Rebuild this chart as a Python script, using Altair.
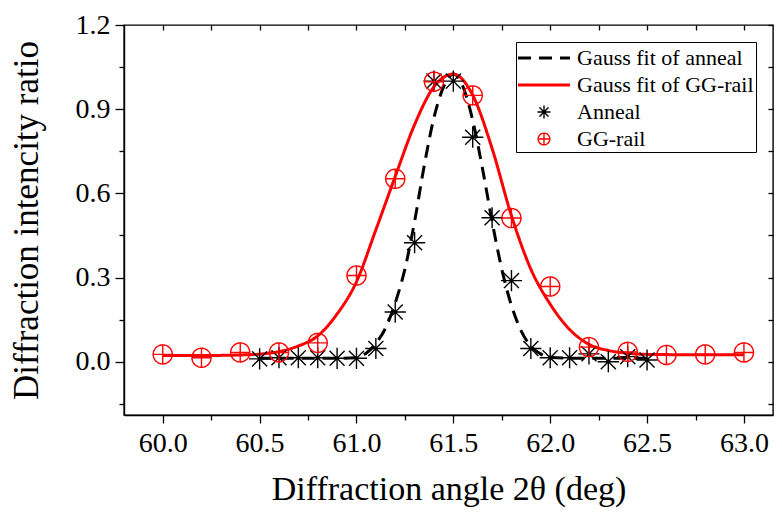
import altair as alt
import pandas as pd

SERIES = ["Gauss fit of anneal", "Gauss fit of GG-rail", "Anneal", "GG-rail"]

# Measured data points
anneal_x = [60.5, 60.6, 60.7, 60.8, 60.9, 61.0, 61.1, 61.2, 61.3, 61.4, 61.5,
            61.6, 61.7, 61.8, 61.9, 62.0, 62.1, 62.2, 62.3, 62.4, 62.5]
anneal_y = [0.010, 0.014, 0.014, 0.014, 0.012, 0.012, 0.047, 0.177, 0.424, 1.0, 1.0,
            0.80, 0.513, 0.289, 0.047, 0.014, 0.014, 0.028, 0.0, 0.018, 0.006]

gg_x = [60.0, 60.2, 60.4, 60.6, 60.8, 61.0, 61.2, 61.4, 61.6, 61.8, 62.0,
        62.2, 62.4, 62.6, 62.8, 63.0]
gg_y = [0.026, 0.014, 0.033, 0.033, 0.067, 0.307, 0.652, 0.998, 0.949, 0.512, 0.268,
        0.052, 0.035, 0.024, 0.026, 0.033]

# Fitted curves
fit_anneal_x = [60.5, 60.7, 60.9, 61.0, 61.05, 61.1, 61.15, 61.2, 61.25, 61.3, 61.35,
                61.4, 61.45, 61.5, 61.55, 61.6, 61.65, 61.7, 61.75, 61.8, 61.85, 61.9,
                61.95, 62.0, 62.2, 62.5]
fit_anneal_y = [0.012, 0.012, 0.012, 0.014, 0.03, 0.065, 0.12, 0.21, 0.33, 0.50, 0.70,
                0.87, 0.98, 1.025, 0.98, 0.86, 0.69, 0.50, 0.33, 0.20, 0.11, 0.055,
                0.028, 0.015, 0.012, 0.012]

fit_gg_x = [60.0, 60.2, 60.4, 60.5, 60.6, 60.7, 60.8, 60.9, 61.0, 61.1, 61.2, 61.3,
            61.4, 61.5, 61.6, 61.7, 61.8, 61.9, 62.0, 62.1, 62.2, 62.3, 62.4, 62.5,
            62.7, 63.0]
fit_gg_y = [0.022, 0.022, 0.024, 0.027, 0.036, 0.056, 0.092, 0.17, 0.285, 0.47, 0.66,
            0.845, 0.98, 1.025, 0.95, 0.76, 0.52, 0.33, 0.205, 0.115, 0.062, 0.04,
            0.03, 0.026, 0.025, 0.025]

x_ticks = [60.0, 60.25, 60.5, 60.75, 61.0, 61.25, 61.5, 61.75, 62.0, 62.25, 62.5,
           62.75, 63.0]
y_ticks = [-0.15, 0.0, 0.15, 0.3, 0.45, 0.6, 0.75, 0.9, 1.05, 1.2]

# legend labels get two trailing no-break spaces so the legend box has right margin
NBSP = chr(160)
LABELS = [s + NBSP * 2 for s in SERIES]

fits = pd.DataFrame({
    "x": fit_anneal_x + fit_gg_x,
    "y": fit_anneal_y + fit_gg_y,
    "series": [LABELS[0]] * len(fit_anneal_x) + [LABELS[1]] * len(fit_gg_x),
})
pts = pd.DataFrame({
    "x": anneal_x + gg_x,
    "y": anneal_y + gg_y,
    "series": [LABELS[2]] * len(anneal_x) + [LABELS[3]] * len(gg_x),
})

LINE_PATH = "M-2,-0.06H2M-2,0.06H2"
STAR = "M0,-0.5V0.5M-0.5,0H0.5M-0.354,-0.354L0.354,0.354M-0.354,0.354L0.354,-0.354"
CPLUS = "M0.45,0A0.45,0.45,0,1,1,-0.45,0A0.45,0.45,0,1,1,0.45,0ZM-0.45,0H0.45M0,-0.45V0.45"

FONT = "Liberation Serif"

xscale = alt.Scale(domain=[59.8, 63.15], nice=False, zero=False)
yscale = alt.Scale(domain=[-0.19, 1.2], nice=False, zero=False)

color = alt.Color("series:N", sort=LABELS,
                  scale=alt.Scale(domain=LABELS, range=["#000000", "#ff0000", "#000000", "#ff0000"]),
                  legend=alt.Legend(title=None))
dash = alt.StrokeDash("series:N", sort=LABELS,
                      scale=alt.Scale(domain=LABELS, range=[[13, 8], [1, 0], [1, 0], [1, 0]]),
                      legend=alt.Legend(title=None))
shape = alt.Shape("series:N", sort=LABELS,
                  scale=alt.Scale(domain=LABELS, range=[LINE_PATH, LINE_PATH, STAR, CPLUS]),
                  legend=alt.Legend(title=None))

x_minor_test = "round(datum.value*4) % 2 == 1"
y_minor_test = "abs(round(datum.value/0.15)) % 2 == 1"

common = dict(labelFont=FONT, labelFontSize=28, labelColor="black",
              titleFont=FONT, titleFontWeight="normal", titleColor="black",
              tickColor="black", tickWidth=1.3, grid=False)

x_bottom = alt.Axis(
    orient="bottom", values=x_ticks, title="Diffraction angle 2θ (deg)",
    labelExpr=f"{x_minor_test} ? '' : format(datum.value, '.1f')",
    tickSize={"condition": {"test": x_minor_test, "value": 5}, "value": 8},
    labelPadding=6, titlePadding=15, titleFontSize=34,
    domainColor="black", domainWidth=1.4, **common,
)
y_left = alt.Axis(
    orient="left", values=y_ticks, title="Diffraction intencity ratio",
    labelExpr=f"{y_minor_test} ? '' : format(datum.value, '.1f')",
    tickSize={"condition": {"test": y_minor_test, "value": 5}, "value": 9},
    labelPadding=5, titlePadding=31, titleFontSize=35,
    domainColor="black", domainWidth=1.4, **common,
)
x_top = alt.Axis(orient="top", values=x_ticks, labels=False, title=None,
                 tickSize=5, offset=-5, domain=False, **common)
y_right = alt.Axis(orient="right", values=y_ticks, labels=False, title=None,
                   tickSize=5, offset=-5, domain=False, **common)

lines = alt.Chart(fits).mark_line(strokeWidth=3, interpolate="monotone").encode(
    x=alt.X("x:Q", scale=xscale, axis=x_bottom),
    y=alt.Y("y:Q", scale=yscale, axis=y_left),
    color=color,
    strokeDash=dash,
)

points = alt.Chart(pts).mark_point(filled=False, size=1800, strokeWidth=1.4, opacity=1).encode(
    x=alt.X("x:Q", scale=xscale, axis=x_top),
    y=alt.Y("y:Q", scale=yscale, axis=y_right),
    color=color,
    strokeDash=dash,
    shape=shape,
)

chart = alt.layer(lines, points).resolve_axis(
    x="independent", y="independent"
).properties(
    width=649, height=390,
    autosize=alt.AutoSizeParams(type="none"),
    padding={"left": 116, "top": 17, "right": 1, "bottom": 100},
).configure_view(
    stroke="black", strokeWidth=1.4
).configure_axis(
    labelFont=FONT, labelFontSize=28, labelColor="black",
    titleFont=FONT, titleFontWeight="normal", titleColor="black",
).configure_legend(
    orient="none", legendX=392, legendY=17,
    padding=2, symbolOffset=12, labelOffset=19, rowPadding=2,
    symbolSize=676, symbolStrokeWidth=1.4,
    labelFont=FONT, labelFontSize=22, labelColor="black", labelLimit=400,
    strokeColor="black", fillColor="white",
)

chart.save("out.html", embed_options={"renderer": "svg", "actions": False})
